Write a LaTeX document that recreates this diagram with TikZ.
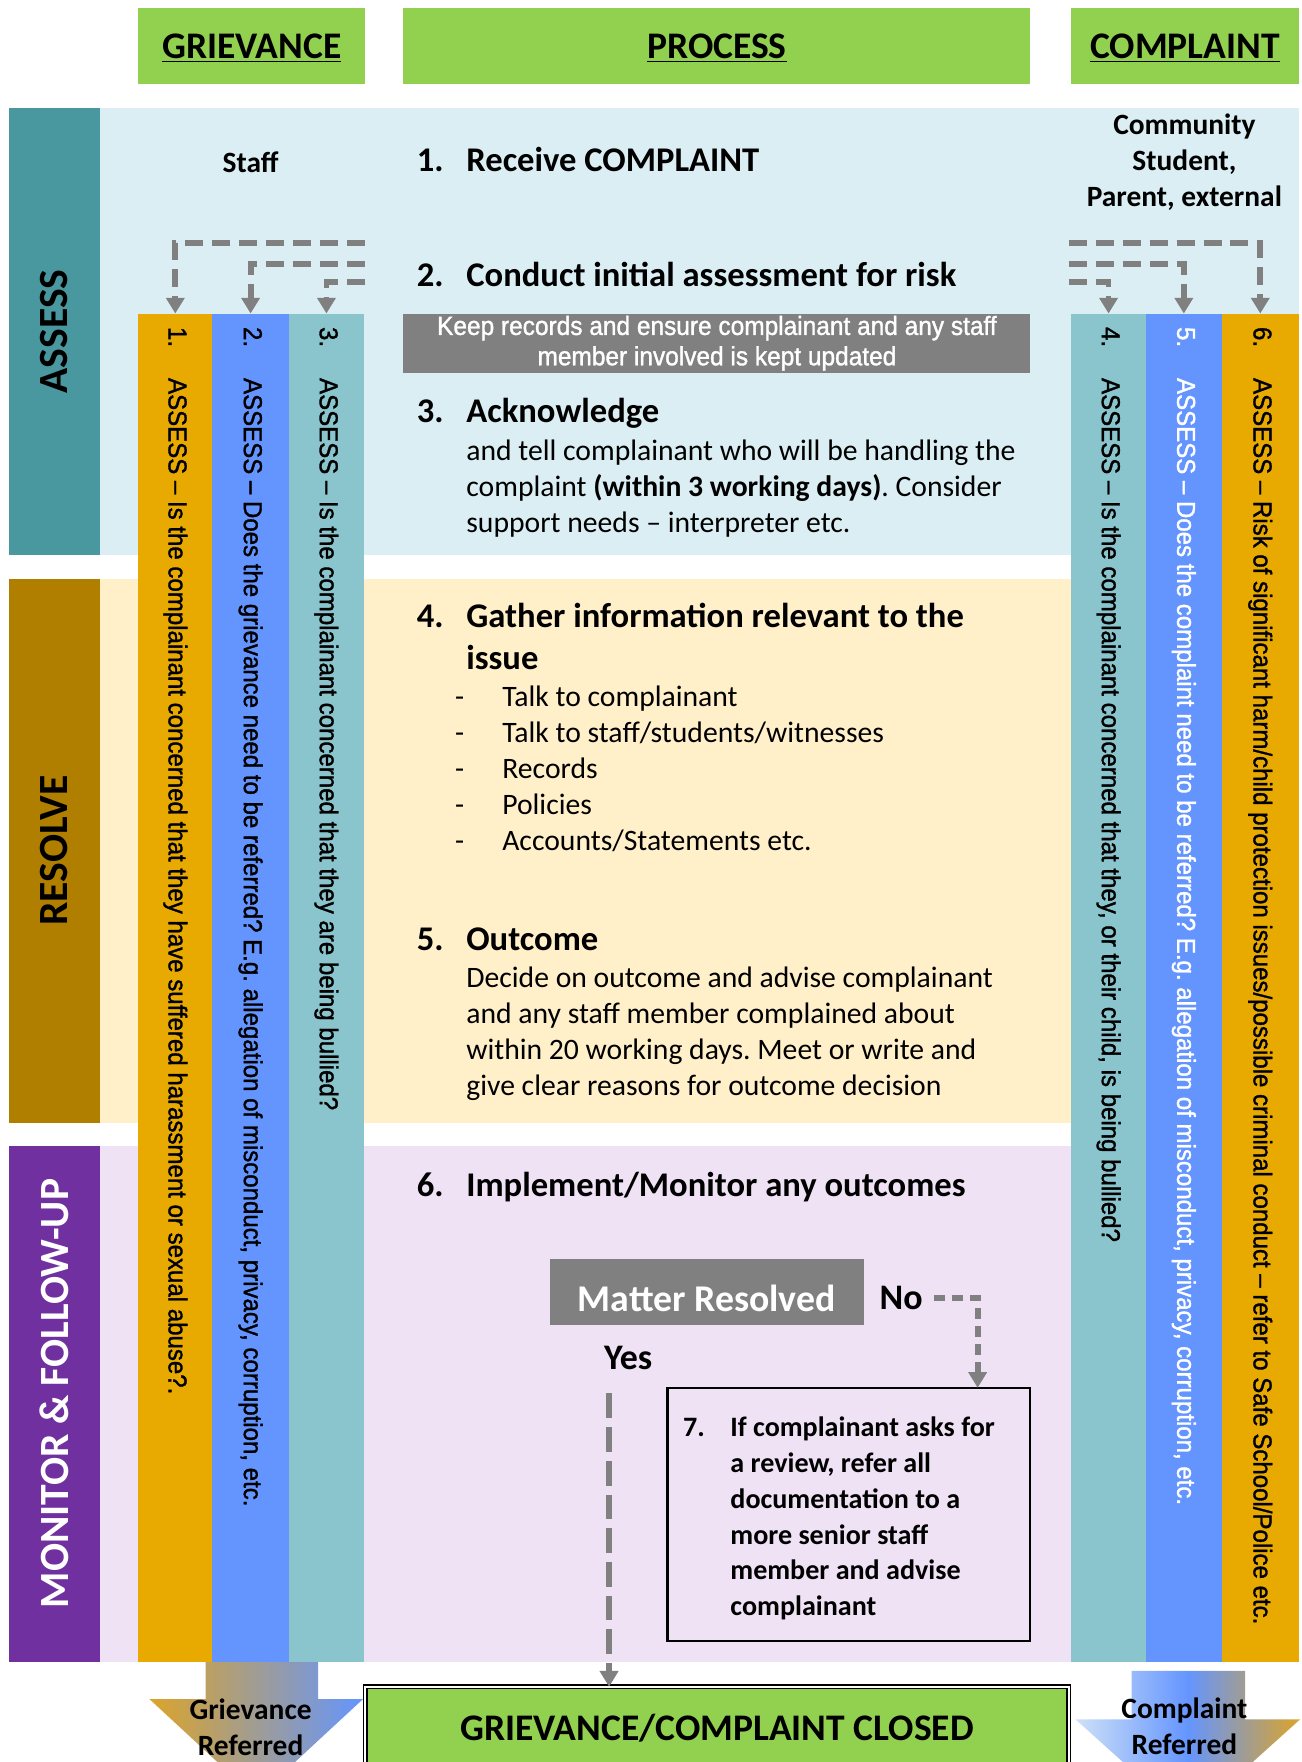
\documentclass[tikz,border=0pt]{standalone}
\usepackage{fontspec}
\setmainfont{Carlito}
\newfontfamily\narrowfont[FakeStretch=0.93, FakeBold=1.3]{Liberation Sans}
\usetikzlibrary{arrows.meta,positioning}
\frenchspacing

\definecolor{headgreen}{HTML}{92D050}
\definecolor{assessdark}{HTML}{4A989F}
\definecolor{assesslight}{HTML}{DAEEF3}
\definecolor{resolvedark}{HTML}{B07F00}
\definecolor{resolvelight}{HTML}{FFF0CA}
\definecolor{monitordark}{HTML}{7030A0}
\definecolor{monitorlight}{HTML}{EFE2F5}
\definecolor{colorange}{HTML}{E8AA00}
\definecolor{colblue}{HTML}{6495FF}
\definecolor{colteal}{HTML}{8AC4CC}
\definecolor{boxgray}{HTML}{808080}
\definecolor{arrorange}{HTML}{DCA42A}
\definecolor{arrlight}{HTML}{CFE1F7}

\tikzset{
  header/.style={fill=headgreen, minimum height=34pt, font=\fontsize{16.7}{20}\selectfont\bfseries},
  bandlabel/.style={rotate=90, font=\fontsize{18.5}{22}\selectfont\bfseries},
  colbox/.style={minimum height=600pt, anchor=north},
  coltext/.style={rotate=-90, anchor=west, font=\narrowfont\fontsize{11.5}{13}\selectfont},
  stepnum/.style={anchor=base west, font=\fontsize{15.4}{19}\selectfont\bfseries},
  stephead/.style={anchor=base west, text width=280pt, align=flush left, font=\fontsize{15.4}{19}\selectfont\bfseries},
  stepbody/.style={anchor=base west, text width=280pt, align=flush left, font=\fontsize{13.2}{16}\selectfont},
  whobox/.style={font=\fontsize{13.1}{16}\selectfont\bfseries, align=flush center},
  flow/.style={draw=boxgray, line width=2.6pt, dash pattern=on 8pt off 4pt, -{Triangle[width=8pt,length=7pt]}},
  referred/.style={font=\fontsize{13.1}{16}\selectfont\bfseries, align=flush center}
}

\begin{document}
\begin{tikzpicture}[x=0.5pt, y=-0.5pt, every node/.style={inner sep=0pt, outer sep=0pt}]
  \clip (0,0) rectangle (1158,1568);

  % stage bands
  \fill[assesslight] (89,96) rectangle (1156,494);
  \fill[resolvelight] (89,515) rectangle (953,999);
  \fill[monitorlight] (89,1020) rectangle (953,1479);
  \fill[assessdark] (8,96) rectangle (89,494);
  \fill[resolvedark] (8,515) rectangle (89,999);
  \fill[monitordark] (8,1020) rectangle (89,1479);
  \node[bandlabel] (lassess) at (48,295) {ASSESS};
  \node[bandlabel] (lresolve) at (48,757) {RESOLVE};
  \node[bandlabel, text=white] (lmonitor) at (48,1240) {MONITOR \& FOLLOW-UP};

  % header row
  \fill[headgreen] (123,7) rectangle (325,75);
  \fill[headgreen] (359,7) rectangle (917,75);
  \fill[headgreen] (953,7) rectangle (1156,75);
  \node[header, fill=none] (hgriev) at (224,43) {\underline{GRIEVANCE}};
  \node[header, fill=none] (hproc) at (638,43) {\underline{PROCESS}};
  \node[header, fill=none] (hcomp) at (1054.5,43) {\underline{COMPLAINT}};

  \node[whobox] (staff) at (223,144) {Staff};
  \node[whobox] (community) at (1054,144) {Community\\Student,\\Parent, external};

  % assess columns
  \node[colbox, fill=colorange, minimum width=33pt] (c1) at (156,279) {};
  \node[colbox, fill=colblue, minimum width=34pt] (c2) at (223,279) {};
  \node[colbox, fill=colteal, minimum width=33.5pt] (c3) at (290.5,279) {};
  \node[colbox, fill=colteal, minimum width=33.5pt] (c4) at (986.5,279) {};
  \node[colbox, fill=colblue, minimum width=33.5pt] (c5) at (1053.5,279) {};
  \node[colbox, fill=colorange, minimum width=34.5pt] (c6) at (1121.5,279) {};

  \node[coltext] (t1) at (156,291) {1.\hspace{1.2em}ASSESS – Is the complainant concerned that they have suffered harassment or sexual abuse?.};
  \node[coltext] (t2) at (223,291) {2.\hspace{1.2em}ASSESS – Does the grievance need to be referred? E.g. allegation of misconduct, privacy, corruption, etc.};
  \node[coltext] (t3) at (290.5,291) {3.\hspace{1.2em}ASSESS – Is the complainant concerned that they are being bullied?};
  \node[coltext] (t4) at (986.5,291) {4.\hspace{1.2em}ASSESS – Is the complainant concerned that they, or their child, is being bullied?};
  \node[coltext, text=white] (t5) at (1053.5,291) {5.\hspace{1.2em}ASSESS – Does the complaint need to be referred? E.g. allegation of misconduct, privacy, corruption, etc.};
  \node[coltext] (t6) at (1121.5,291) {6.\hspace{1.2em}ASSESS – Risk of significant harm/child protection issues/possible criminal conduct – refer to Safe School/Police etc.};

  % risk assessment feeds
  \coordinate (gs1) at (325,216);
  \coordinate (gs2) at (325,235);
  \coordinate (gs3) at (325,251);
  \coordinate (cs1) at (951,216);
  \coordinate (cs2) at (951,235);
  \coordinate (cs3) at (951,251);
  \draw[flow] (gs1) -| (c1.north);
  \draw[flow] (gs2) -| (c2.north);
  \draw[flow] (gs3) -| (c3.north);
  \draw[flow] (cs1) -| (c6.north);
  \draw[flow] (cs2) -| (c5.north);
  \draw[flow] (cs3) -| (c4.north);

  % process steps
  \node[stepnum] (n1) at (371,153) {1.};
  \node[stephead] (s1) at (415,153) {Receive COMPLAINT};
  \node[stepnum] (n2) at (371,255) {2.};
  \node[stephead] (s2) at (415,255) {Conduct initial assessment for risk};

  \node[fill=boxgray, minimum width=279pt, minimum height=26.5pt, text=white, align=flush center,
        font=\narrowfont\fontsize{11.7}{13.5}\selectfont] (records) at (638,305.5)
        {Keep records and ensure complainant and any staff\\member involved is kept updated};

  \node[stepnum] (n3) at (371,376) {3.};
  \node[stephead] (s3) at (415,376) {Acknowledge};
  \node[stepbody] (b3) at (415,410) {and tell complainant who will be handling the\\complaint \textbf{(within 3 working days)}. Consider\\support needs – interpreter etc.};

  \node[stepnum] (n4) at (371,558) {4.};
  \node[stephead] (s4) at (415,558) {Gather information relevant to the\\issue};
  \foreach \txt [count=\i] in {Talk to complainant, Talk to staff/students/witnesses, Records, Policies, Accounts/Statements etc.} {
    \node[anchor=base west, font=\fontsize{13.2}{16}\selectfont] (dash\i) at (405,{597+32*\i}) {-};
    \node[anchor=base west, font=\fontsize{13.2}{16}\selectfont] (gather\i) at (447,{597+32*\i}) {\txt};
  }

  \node[stepnum] (n5) at (371,846) {5.};
  \node[stephead] (s5) at (415,846) {Outcome};
  \node[stepbody] (b5) at (415,879) {Decide on outcome and advise complainant\\and any staff member complained about\\within 20 working days. Meet or write and\\give clear reasons for outcome decision};

  \node[stepnum] (n6) at (371,1065) {6.};
  \node[stephead] (s6) at (415,1065) {Implement/Monitor any outcomes};

  % decision
  \node[fill=boxgray, minimum width=140pt, minimum height=29.5pt] (resolved) at (629,1149.5) {};
  \node[text=white, font=\fontsize{16.8}{20}\selectfont\bfseries] (resolvedtext) at (629,1155) {Matter Resolved};
  \node[font=\fontsize{16}{19}\selectfont\bfseries] (no) at (802,1155) {No};
  \node[font=\fontsize{16}{19}\selectfont\bfseries] (yes) at (559,1208) {Yes};

  \node[draw, line width=0.9pt, minimum width=161.5pt, minimum height=112.5pt] (review) at (755.5,1347.5) {};
  \node[anchor=base west, font=\fontsize{12.5}{16}\selectfont\bfseries] (n7) at (608,1278) {7.};
  \node[anchor=base west, text width=150pt, align=flush left, font=\fontsize{12.5}{16}\selectfont\bfseries] (reviewtext) at (650,1278)
    {If complainant asks for\\a review, refer all\\documentation to a\\more senior staff\\member and advise\\complainant};

  \node[fill=headgreen, draw=black, line width=0.7pt, double=white, double distance=1pt,
        minimum width=313pt, minimum height=37pt, font=\fontsize{16.7}{20}\selectfont\bfseries] (closed) at (638,1538)
        {GRIEVANCE/COMPLAINT CLOSED};

  \coordinate (noturn) at (870,1155);
  \coordinate (yesdrop) at (542,1240);
  \draw[flow, dash pattern=on 5pt off 3pt, shorten <=5pt] (no.east) -- (noturn) -- (noturn |- review.north);
  \draw[flow, dash pattern=on 11pt off 4pt] (yesdrop) -- (yesdrop |- closed.north);

  % referred arrows
  \shade[left color=arrorange, right color=colblue] (183,1479) -- (283,1479) -- (283,1512) -- (323,1512)
    -- (228,1600) -- (133,1512) -- (183,1512) -- cycle;
  \node[referred] (grefer) at (223,1537) {Grievance\\Referred};
  \shade[left color=arrlight, right color=arrorange, middle color=colblue] (1007,1487) -- (1108,1487) -- (1108,1530)
    -- (1157,1530) -- (1057,1620) -- (957,1530) -- (1007,1530) -- cycle;
  \node[referred] (crefer) at (1054,1536) {Complaint\\Referred};
\end{tikzpicture}
\end{document}
